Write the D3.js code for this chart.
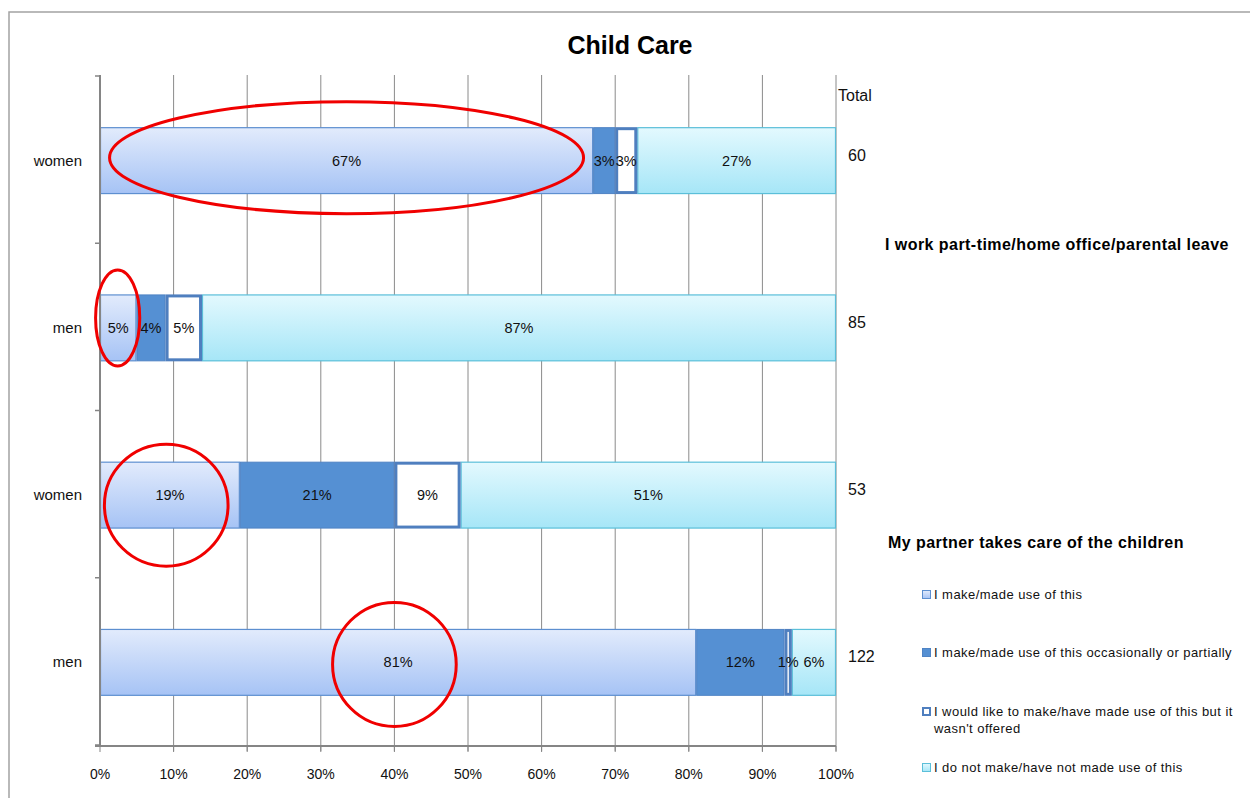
<!DOCTYPE html>
<head>
<meta charset="utf-8">
<script src="https://d3js.org/d3.v7.min.js"></script>
<style>
  body { margin: 0; background: #fff; font-family: "Liberation Sans", Arial, sans-serif; }
  .seg-label { font-size: 14.5px; fill: #111; }
  .cat-label { font-size: 15px; fill: #111; }
  .tick-label { font-size: 14px; fill: #111; }
  .total { font-size: 16px; fill: #111; }
  .legend text { font-size: 13px; fill: #111; letter-spacing: 0.45px; }
  .group-title { font-size: 16px; font-weight: bold; letter-spacing: 0.45px; }
</style>
</head>
<body>
<div id="chart"></div>
<script>
// data
var rowLabels = ["women", "men", "women", "men"];
var totals = [60, 85, 53, 122];
var seriesNames = [
  "I make/made use of this",
  "I make/made use of this occasionally or partially",
  "I would like to make/have made use of this but it wasn't offered",
  "I do not make/have not made use of this"
];
var useFull     = [67, 5, 19, 81];
var usePartial  = [3, 4, 21, 12];
var notOffered  = [3, 5, 9, 1];
var notUsed     = [27, 87, 51, 6];
var xTicks = [0, 10, 20, 30, 40, 50, 60, 70, 80, 90, 100];
var groupTitles = ["I work part-time/home office/parental leave", "My partner takes care of the children"];

// highlight ellipses (in data units: percent along x, row index)
var ellCx  = [33.5, 2.4, 9, 40];
var ellRow = [0, 1, 2, 3];
var ellRx  = [32.2, 3.0, 8.4, 8.4];
var ellRy  = [56, 48, 61, 62];
var ellDy  = [-3, -10, 10, 2];

var W = 1250, H = 798;
var svg = d3.select("#chart").append("svg").attr("width", W).attr("height", H);

var defs = svg.append("defs");
function grad(id, top, bottom) {
  var g = defs.append("linearGradient").attr("id", id)
    .attr("x1", 0).attr("y1", 0).attr("x2", 0).attr("y2", 1);
  g.append("stop").attr("offset", "0%").attr("stop-color", top);
  g.append("stop").attr("offset", "100%").attr("stop-color", bottom);
}
grad("g1", "#e2ebfc", "#a6c3f5");
grad("g4", "#e3f9fe", "#a6e6f7");

var fills   = ["url(#g1)", "#5590d3", "#ffffff", "url(#g4)"];
var strokes = ["#5d8fd0", "#4f83c4", "#4f7fbf", "#5bbfd9"];
var swidth  = [1.2, 1, 3, 1.2];

// frame
svg.append("path").attr("d", "M9," + H + "V12H" + W)
  .attr("fill", "none").attr("stroke", "#a3a3a3").attr("stroke-width", 1.5);

// title
svg.append("text").attr("x", 630).attr("y", 54).attr("text-anchor", "middle")
  .style("font-size", "25px").style("font-weight", "bold").text("Child Care");

var x = d3.scaleLinear().domain([0, 100]).range([100, 836]);
var y = d3.scaleBand().domain(d3.range(rowLabels.length)).range([77, 746]);
var barH = y.bandwidth() * 0.4;

// gridlines
svg.append("g").selectAll("line").data(xTicks.slice(1)).enter().append("line")
  .attr("x1", function(d) { return x(d); }).attr("x2", function(d) { return x(d); })
  .attr("y1", y.range()[0] - 2).attr("y2", y.range()[1] + 5)
  .attr("stroke", "#8a8a8a").attr("stroke-width", 1);

// stacked rows (Excel 100% stacked: normalise per row)
var rows = rowLabels.map(function(lab, i) {
  var vals = [useFull[i], usePartial[i], notOffered[i], notUsed[i]];
  var sum = d3.sum(vals), acc = 0;
  return vals.map(function(v, k) {
    var s = acc / sum * 100; acc += v;
    return { row: i, k: k, v: v, x0: s, x1: acc / sum * 100 };
  });
});
var segs = [].concat.apply([], rows);

// draw in order so the thick border of series 3 sits on top
[0, 1, 3, 2].forEach(function(k) {
  svg.append("g").selectAll("rect").data(segs.filter(function(d) { return d.k === k; }))
    .enter().append("rect")
      .attr("x", function(d) { return x(d.x0) + (k === 2 ? 1.5 : 0.5); })
      .attr("y", function(d) { return y(d.row) + (y.bandwidth() - barH) / 2 + (k === 2 ? 1.5 : 0.5); })
      .attr("width", function(d) { return Math.max(0, x(d.x1) - x(d.x0) - (k === 2 ? 3 : 1)); })
      .attr("height", barH - (k === 2 ? 3 : 1))
      .attr("fill", fills[k]).attr("stroke", strokes[k]).attr("stroke-width", swidth[k]);
});

svg.append("g").selectAll("text").data(segs).enter().append("text")
  .attr("class", "seg-label")
  .attr("x", function(d) { return (x(d.x0) + x(d.x1)) / 2; })
  .attr("y", function(d) { return y(d.row) + y.bandwidth() / 2 + 5; })
  .attr("text-anchor", "middle")
  .text(function(d) { return d.v + "%"; });

// y axis
svg.append("line").attr("x1", x(0)).attr("x2", x(0))
  .attr("y1", y.range()[0] - 2).attr("y2", y.range()[1])
  .attr("stroke", "#858585").attr("stroke-width", 2);
svg.append("g").selectAll("line").data(d3.range(rowLabels.length + 1)).enter().append("line")
  .attr("x1", x(0) - 5).attr("x2", x(0))
  .attr("y1", function(d) { return y.range()[0] - 1 + d * y.step(); })
  .attr("y2", function(d) { return y.range()[0] - 1 + d * y.step(); })
  .attr("stroke", "#858585").attr("stroke-width", 1.5);
svg.append("g").selectAll("text").data(rowLabels).enter().append("text")
  .attr("class", "cat-label")
  .attr("x", 82).attr("text-anchor", "end")
  .attr("y", function(d, i) { return y(i) + y.bandwidth() / 2 + 5; })
  .text(function(d) { return d; });

// x axis
svg.append("line").attr("x1", x(0) - 5).attr("x2", x(100))
  .attr("y1", y.range()[1]).attr("y2", y.range()[1])
  .attr("stroke", "#858585").attr("stroke-width", 2);
svg.append("g").selectAll("line").data(xTicks).enter().append("line")
  .attr("x1", function(d) { return x(d); }).attr("x2", function(d) { return x(d); })
  .attr("y1", y.range()[1]).attr("y2", y.range()[1] + 6)
  .attr("stroke", "#858585").attr("stroke-width", 1);
svg.append("g").selectAll("text").data(xTicks).enter().append("text")
  .attr("class", "tick-label")
  .attr("x", function(d) { return x(d); }).attr("y", 779).attr("text-anchor", "middle")
  .text(function(d) { return d + "%"; });

// totals
svg.append("text").attr("class", "total").attr("x", 838).attr("y", 101).text("Total");
svg.append("g").selectAll("text").data(totals).enter().append("text")
  .attr("class", "total").attr("x", 848)
  .attr("y", function(d, i) { return y(i) + y.bandwidth() / 2; })
  .text(function(d) { return d; });

// group titles
svg.append("text").attr("class", "group-title").attr("x", 885).attr("y", 250).text(groupTitles[0]);
svg.append("text").attr("class", "group-title").attr("x", 888).attr("y", 548).text(groupTitles[1]);

// legend
var legY = [594, 652, 711, 767];
var leg = svg.append("g").attr("class", "legend");
seriesNames.forEach(function(name, k) {
  var g = leg.append("g").attr("transform", "translate(922," + legY[k] + ")");
  g.append("rect").attr("x", k === 2 ? 1 : 0.5).attr("y", k === 2 ? -3 : -3.5)
    .attr("width", k === 2 ? 7 : 8).attr("height", k === 2 ? 7 : 8)
    .attr("fill", fills[k]).attr("stroke", strokes[k]).attr("stroke-width", k === 2 ? 2 : 1);
  var t = g.append("text").attr("x", 12).attr("y", 5);
  if (k === 2) {
    t.append("tspan").attr("x", 12).text("I would like to make/have made use of this but  it");
    t.append("tspan").attr("x", 12).attr("dy", 17).text("wasn't offered");
  } else {
    t.text(name);
  }
});

// red highlight ellipses
svg.append("g").selectAll("ellipse").data(ellCx).enter().append("ellipse")
  .attr("cx", function(d) { return x(d); })
  .attr("cy", function(d, i) { return y(ellRow[i]) + y.bandwidth() / 2 + ellDy[i]; })
  .attr("rx", function(d, i) { return x(ellRx[i]) - x(0); })
  .attr("ry", function(d, i) { return ellRy[i]; })
  .attr("fill", "none").attr("stroke", "#f00000").attr("stroke-width", 3);
</script>
</body>
